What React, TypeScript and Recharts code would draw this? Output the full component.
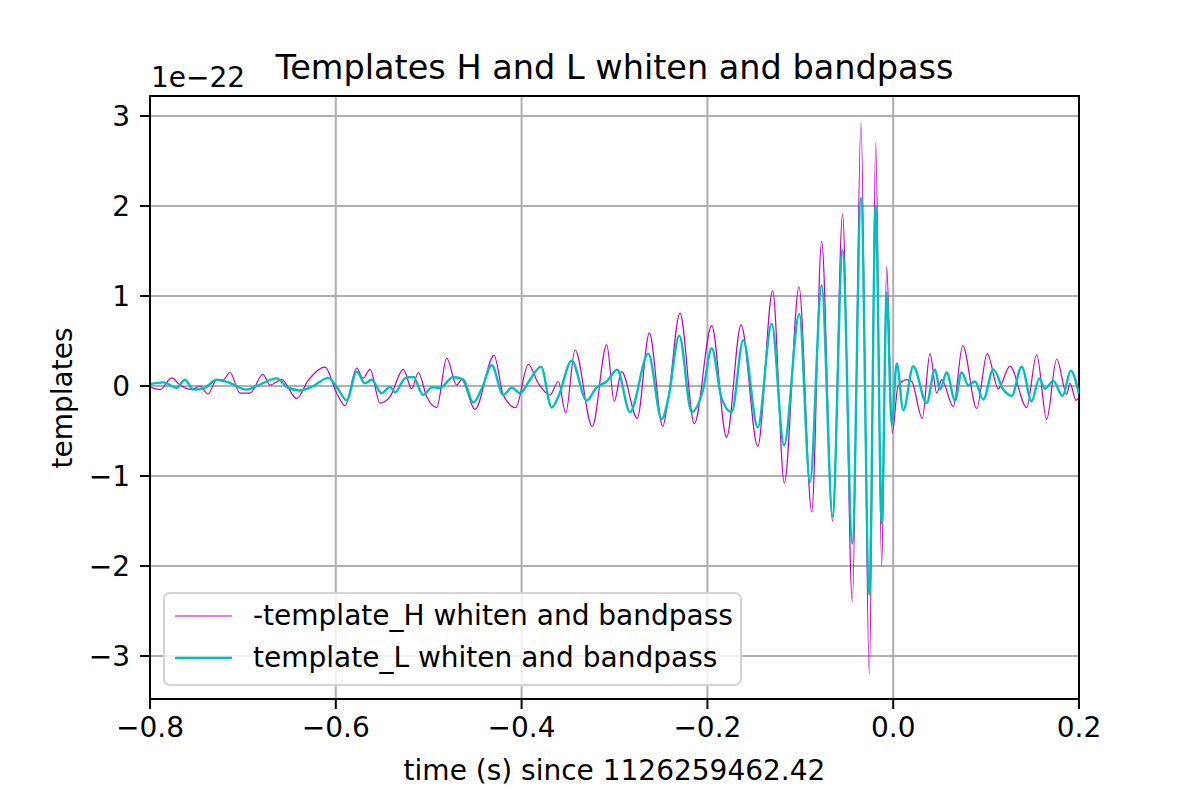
import { LineChart, Line, XAxis, YAxis, CartesianGrid, Legend, ReferenceArea } from "recharts"

// time (s) since 1126259462.42, values in units of 1e-22
const hTime = [
  -0.8, -0.7892, -0.7766, -0.7677, -0.7551, -0.7462, -0.7376, -0.7282, -0.7214, -0.7139,
  -0.7031, -0.6924, -0.6784, -0.6708, -0.6582, -0.6421, -0.6299, -0.6116, -0.599, -0.5901,
  -0.5775, -0.5707, -0.5632, -0.5524, -0.5417, -0.5273, -0.5183, -0.5112, -0.5021, -0.4914,
  -0.4806, -0.4699, -0.4645, -0.4502, -0.4297, -0.4197, -0.4063, -0.3928, -0.382, -0.3694,
  -0.3605, -0.3525, -0.3425, -0.3239, -0.3084, -0.3003, -0.2923, -0.2755, -0.2625, -0.2481,
  -0.2421, -0.2295, -0.2141, -0.1954, -0.1793, -0.1638, -0.1458, -0.1297, -0.1172, -0.1014,
  -0.0877, -0.077, -0.0653, -0.0545, -0.044, -0.0347, -0.0257, -0.0188, -0.0124, -0.007,
  -0.001, 0.0052, 0.0146, 0.0199, 0.0313, 0.0396, 0.0468, 0.0522, 0.0647, 0.0748,
  0.0899, 0.1012, 0.1131, 0.1257, 0.1437, 0.1544, 0.1652, 0.176, 0.1868, 0.1903,
  0.1968, 0.2,
]
const hValue = [
  -0.01, -0.04, 0.09, 0.01, -0.04, 0.0, -0.09, 0.07, 0.065, 0.15,
  -0.08, -0.08, 0.13, 0.01, 0.07, -0.14, 0.06, 0.21, -0.08, -0.22,
  0.2, 0.085, 0.185, -0.19, -0.12, 0.185, -0.03, 0.15, -0.12, -0.24,
  0.31, 0.01, 0.07, -0.26, 0.34, -0.1, -0.24, 0.24, 0.03, -0.1,
  0.05, -0.3, 0.4, -0.45, 0.46, -0.17, 0.16, -0.36, 0.59, -0.45,
  -0.14, 0.81, -0.42, 0.67, -0.57, 0.68, -0.67, 1.06, -1.08, 1.1,
  -1.4, 1.61, -1.5, 1.91, -2.4, 2.92, -3.2, 2.7, -2.0, 1.33,
  -0.52, 0.0, 0.07, 0.05, -0.36, 0.36, -0.08, 0.07, -0.23, 0.45,
  -0.25, 0.36, -0.03, 0.22, -0.24, 0.35, -0.37, 0.3, -0.09, 0.03,
  -0.16, -0.12,
]

const lTime = [
  -0.8, -0.7857, -0.7713, -0.7623, -0.7534, -0.7426, -0.7282, -0.7157, -0.6959, -0.6851,
  -0.6636, -0.6529, -0.6385, -0.6242, -0.6081, -0.599, -0.5883, -0.5775, -0.5686, -0.5614,
  -0.5506, -0.5417, -0.5363, -0.5255, -0.5166, -0.5059, -0.4968, -0.4878, -0.4735, -0.4627,
  -0.452, -0.4429, -0.4322, -0.4197, -0.4107, -0.4017, -0.391, -0.3791, -0.3676, -0.3605,
  -0.3461, -0.33, -0.3192, -0.3084, -0.2971, -0.2833, -0.2636, -0.2492, -0.2421, -0.2303,
  -0.2169, -0.2044, -0.1954, -0.1846, -0.1739, -0.1614, -0.1458, -0.1308, -0.1175, -0.1011,
  -0.0896, -0.077, -0.0653, -0.0545, -0.044, -0.0347, -0.0257, -0.0188, -0.0124, -0.007,
  -0.0016, 0.0038, 0.0109, 0.0216, 0.036, 0.045, 0.0504, 0.0576, 0.0665, 0.0737,
  0.0808, 0.088, 0.097, 0.1077, 0.1185, 0.1275, 0.1383, 0.149, 0.1572, 0.1634,
  0.1723, 0.1824, 0.1911, 0.2,
]
const lValue = [
  0.02, 0.04, -0.02, 0.07, -0.04, -0.03, 0.07, 0.04, -0.04, 0.0,
  0.085, -0.01, -0.05, 0.0, 0.09, -0.01, -0.16, 0.16, 0.03, 0.07,
  -0.08, -0.01, -0.07, 0.085, 0.1, -0.1, -0.015, -0.02, 0.1, 0.07,
  -0.185, -0.03, 0.23, -0.1, -0.02, -0.08, 0.07, 0.215, -0.24, -0.12,
  0.28, -0.16, -0.015, 0.05, 0.18, -0.29, 0.36, -0.37, -0.14, 0.56,
  -0.29, -0.03, 0.42, -0.14, -0.29, 0.51, -0.46, 0.69, -0.66, 0.8,
  -1.07, 1.12, -1.45, 1.51, -1.75, 2.09, -2.32, 2.0, -1.53, 1.04,
  -0.43, 0.25, -0.27, 0.22, -0.19, 0.185, -0.04, 0.15, -0.16, 0.15,
  0.01, 0.05, -0.15, 0.185, -0.04, -0.11, 0.215, -0.17, 0.085, -0.03,
  0.055, -0.11, 0.17, -0.09,
]

const xTicks = [-0.8, -0.6, -0.4, -0.2, 0.0, 0.2]
const yTicks = [-3, -2, -1, 0, 1, 2, 3]
const legendWidths = [1.2, 2.4]

const hData = hTime.map((t, i) => ({ t, v: hValue[i] }))
const lData = lTime.map((t, i) => ({ t, v: lValue[i] }))

const font = "'DejaVu Sans', 'Liberation Sans', sans-serif"
const xDomain: [number, number] = [-0.8, 0.2]
const yDomain: [number, number] = [-3.478, 3.222]

const fmtX = (v: number) => (v < -1e-9 ? "\u2212" : "") + Math.abs(v).toFixed(1)
const fmtY = (v: number) => (v < 0 ? "\u2212" : "") + Math.abs(v).toFixed(0)

const renderLegend = (props: any) => {
  const { payload } = props
  return (
    <div
      style={{
        border: "2px solid #d4d4d4",
        borderRadius: 7,
        background: "rgba(255,255,255,0.8)",
        padding: "1px 7px 5px 10px",
        fontFamily: font,
        fontSize: 28,
      }}
    >
      {(payload || []).map((entry: any, i: number) => (
        <div key={`leg-${i}`} style={{ display: "flex", alignItems: "center", height: 42 }}>
          <svg width={57} height={8} style={{ display: "block" }}>
            <line x1={0} y1={4} x2={57} y2={4} stroke={entry.color} strokeWidth={legendWidths[i]} />
          </svg>
          <span style={{ marginLeft: 21, lineHeight: "42px", color: "#000", whiteSpace: "nowrap" }}>
            {entry.value}
          </span>
        </div>
      ))}
    </div>
  )
}

export default function App() {
  return (
    <div style={{ position: "relative", width: 1200, height: 800, background: "#fff", fontFamily: font }}>
      <style>{"body{margin:0}"}</style>

      {/* Title and offset text */}
      <div style={{ position: "absolute", left: 0, width: 1229, top: 51, textAlign: "center", fontSize: 33.5, lineHeight: "33px", color: "#000" }}>
        Templates H and L whiten and bandpass
      </div>
      <div style={{ position: "absolute", left: 151, top: 64, fontSize: 28, lineHeight: "28px", color: "#000" }}>
        1e{"\u2212"}22
      </div>

      <LineChart width={1200} height={800} margin={{ top: 96, right: 121, bottom: 71, left: 90 }}>
        <CartesianGrid stroke="#b0b0b0" strokeWidth={2} />
        <XAxis
          dataKey="t"
          type="number"
          domain={xDomain}
          ticks={xTicks}
          allowDataOverflow
          height={30}
          tickFormatter={fmtX}
          tick={{ fill: "#000", fontSize: 28, fontFamily: font }}
          tickSize={10}
          tickMargin={8}
          tickLine={{ stroke: "#000", strokeWidth: 2 }}
          axisLine={{ stroke: "#000", strokeWidth: 2 }}
        />
        <YAxis
          type="number"
          domain={yDomain}
          ticks={yTicks}
          allowDataOverflow
          width={60}
          tickFormatter={fmtY}
          tick={{ fill: "#000", fontSize: 28, fontFamily: font }}
          tickSize={10}
          tickMargin={10}
          tickLine={{ stroke: "#000", strokeWidth: 2 }}
          axisLine={{ stroke: "#000", strokeWidth: 2 }}
        />
        <Line
          data={hData}
          dataKey="v"
          name="-template_H whiten and bandpass"
          type="monotone"
          stroke="#bf00bf"
          strokeWidth={1.2}
          dot={false}
          activeDot={false}
          isAnimationActive={false}
        />
        <Line
          data={lData}
          dataKey="v"
          name="template_L whiten and bandpass"
          type="monotone"
          stroke="#00bfbf"
          strokeWidth={2.4}
          dot={false}
          activeDot={false}
          isAnimationActive={false}
        />
        {/* axes frame */}
        <ReferenceArea
          x1={xDomain[0]}
          x2={xDomain[1]}
          y1={yDomain[0]}
          y2={yDomain[1]}
          fill="none"
          fillOpacity={0}
          stroke="#000"
          strokeWidth={2}
          ifOverflow="visible"
        />
        <Legend
          layout="vertical"
          align="center"
          verticalAlign="middle"
          content={renderLegend}
          wrapperStyle={{ left: 163, top: 592, width: "auto", height: "auto" }}
        />
      </LineChart>

      {/* Axis labels */}
      <div style={{ position: "absolute", left: 0, width: 1229, top: 757, textAlign: "center", fontSize: 28, lineHeight: "28px", color: "#000" }}>
        time (s) since 1126259462.42
      </div>
      <div
        style={{
          position: "absolute",
          left: 63,
          top: 398,
          fontSize: 28,
          lineHeight: "28px",
          color: "#000",
          whiteSpace: "nowrap",
          transform: "translate(-50%, -50%) rotate(-90deg)",
        }}
      >
        templates
      </div>
    </div>
  )
}
